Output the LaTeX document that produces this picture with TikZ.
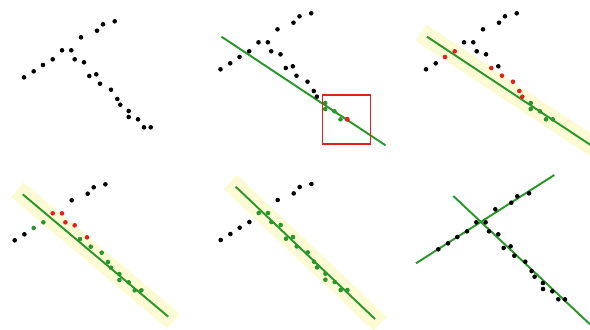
\documentclass[tikz,border=0pt]{standalone}
\usepackage{xcolor}
\usepackage{tikz}

\definecolor{fitgreen}{RGB}{40,150,40}
\definecolor{inred}{RGB}{230,30,30}
\definecolor{bandyellow}{RGB}{253,251,212}

\begin{document}
\begin{tikzpicture}[x=0.02cm, y=-0.02cm,
    fitline/.style={fitgreen, line width=1.1pt},
    band/.style={bandyellow, line width=11pt, shorten <=-4pt, shorten >=-4pt},
    p2/.style={shift={(196.5,-8)}}, p3/.style={shift={(402,-8)}},
    p4/.style={shift={(-9.3,163)}}, p5/.style={shift={(196.7,162.7)}},
    p6/.style={shift={(414.3,172)}}]
    \useasboundingbox (0,0) rectangle (590,329);
    % the points, as in the first panel
    \foreach \n/\x/\y in {a1/24/77.3, a2/33.7/71.3, a3/43/65, a4/52.7/59.3, a5/62/50.3,
        a6/71.3/50.3, a7/81/37.3, a8/97/30.7, a9/103/24.3, a10/114.7/21.3}
        \coordinate (\n) at (\x,\y);
    \foreach \n/\x/\y in {b1/74.7/59.3, b2/84/62.3, b3/89.3/76, b4/96.3/74.3, b5/100/83.7,
        b6/111/89.7, b7/117.3/99, b8/120.3/104.7, b9/128.7/111, b10/128.7/117,
        b11/138/119.3, b12/144/127.3, b13/150.7/127.3}
        \coordinate (\n) at (\x,\y);

    % 1
    \foreach \i in {1,...,10} \fill (a\i) circle (2.3);
    \foreach \i in {1,...,13} \fill (b\i) circle (2.3);

    % 2
    \draw[p2, fitline] (25,44.7) -- (189,153.3);
    \draw[p2, inred, line width=0.8pt] (126.2,103) rectangle (174.2,152);
    \foreach \i in {1,...,10} \fill ([p2]a\i) circle (2.3);
    \foreach \i in {1,...,8} \fill ([p2]b\i) circle (2.3);
    \foreach \i in {9,...,12} \fill[fitgreen] ([p2]b\i) circle (2.3);
    \fill[inred] ([p2]b13) circle (2.5);

    % 3
    \draw[p3, band] (25,44.7) -- (189,153.3);
    \draw[p3, fitline] (25,44.7) -- (189,153.3);
    \foreach \n in {a1,a2,a5,a6,a7,a8,a9,a10,b1,b2,b4} \fill ([p3]\n) circle (2.3);
    \foreach \n in {a3,a4,b3,b5,b6,b7,b8} \fill[inred] ([p3]\n) circle (2.3);
    \foreach \i in {9,...,13} \fill[fitgreen] ([p3]b\i) circle (2.3);

    % 4
    \draw[p4, band] (32,31.3) -- (177.6,153.7);
    \draw[p4, fitline] (32,31.3) -- (177.6,153.7);
    \foreach \n in {a1,a2,a7,a8,a9,a10} \fill ([p4]\n) circle (2.3);
    \foreach \n in {a5,a6,b1,b2,b4} \fill[inred] ([p4]\n) circle (2.3);
    \foreach \n in {a3,a4,b3,b5,b6,b7,b8,b9,b10,b11,b12,b13}
        \fill[fitgreen] ([p4]\n) circle (2.3);

    % 5
    \draw[p5, band] (39,24) -- (178.3,156.3);
    \draw[p5, fitline] (39,24) -- (178.3,156.3);
    \foreach \n in {a1,a2,a3,a4,a7,a8,a9,a10} \fill ([p5]\n) circle (2.3);
    \foreach \n in {a5,a6} \fill[fitgreen] ([p5]\n) circle (2.3);
    \foreach \i in {1,...,13} \fill[fitgreen] ([p5]b\i) circle (2.3);

    % 6
    \draw[p6, fitline] (39,24) -- (175.7,152.3);
    \draw[p6, fitline] (1.7,91.3) -- (140,3);
    \foreach \i in {1,...,10} \fill ([p6]a\i) circle (2.3);
    \foreach \i in {1,...,13} \fill ([p6]b\i) circle (2.3);
\end{tikzpicture}
\end{document}
